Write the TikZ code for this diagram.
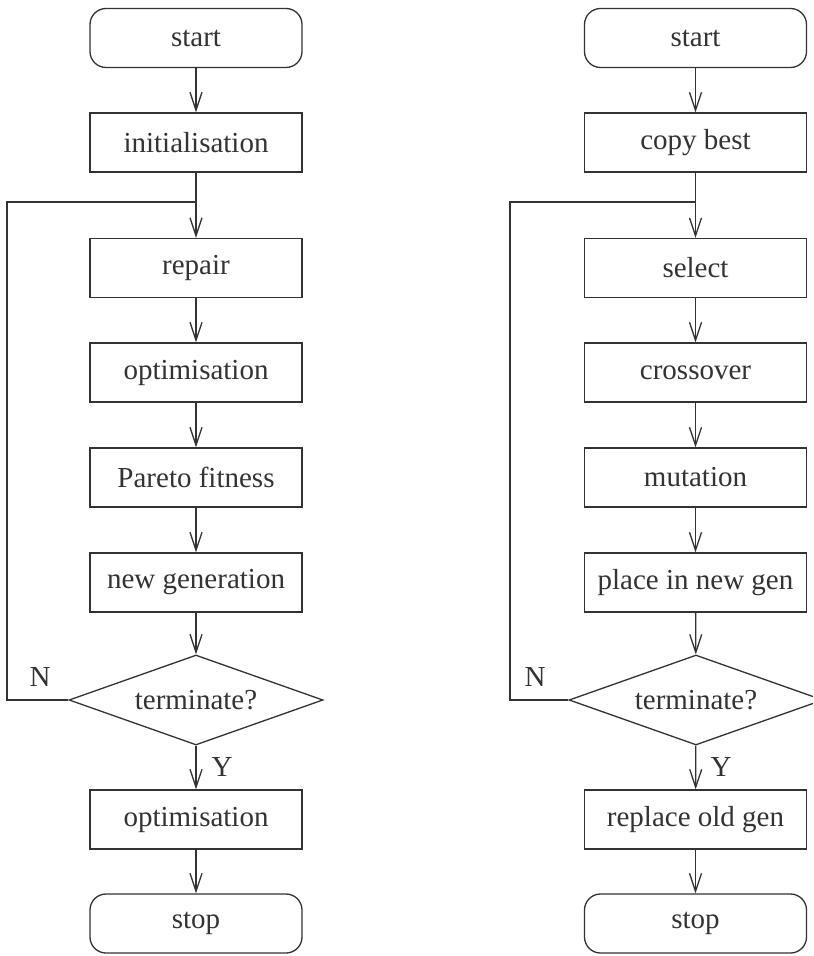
\documentclass[tikz,border=0pt]{standalone}
\usepackage{fontspec}
\setmainfont{Liberation Serif}
\usetikzlibrary{shapes.geometric,arrows.meta}
\definecolor{ink}{rgb}{0.2,0.2,0.2}
\begin{document}
\begin{tikzpicture}[x=0.5pt,y=-0.5pt,
  every node/.style={font=\fontsize{14.5}{17}\selectfont, text=ink},
  procbox/.style={draw=ink, line width=0.65pt, rectangle, minimum height=29.5pt, inner sep=0pt},
  lbox/.style={procbox, minimum width=106pt},
  rbox/.style={procbox, minimum width=111pt},
  termbox/.style={procbox, rounded corners=8pt},
  decide/.style={draw=ink, line width=0.65pt, diamond, aspect=2.8, inner sep=0pt,
    minimum width=127pt, minimum height=45pt},
  flow/.style={draw=ink, line width=0.65pt, -{Straight Barb[length=9pt,width=6pt]}},
  link/.style={draw=ink, line width=0.65pt}
]
\clip (0,0) rectangle (813,956);
\fill[white] (0,0) rectangle (813,956);

% ---- left chart: overall optimisation loop ----
\node[lbox,termbox] (ls)  at (196,38)    {start};
\node[lbox] (linit)       at (196,142.5) {initialisation};
\node[lbox] (lrep)        at (196,268)   {repair};
\node[lbox] (lopt)        at (196,372.5) {optimisation};
\node[lbox] (lpar)        at (196,477.5) {Pareto fitness};
\node[lbox] (lgen)        at (196,582.5) {new generation};
\node[decide] (lterm)     at (196,700)   {terminate?};
\node[lbox] (lopt2)       at (196,819.5) {optimisation};
\node[lbox,termbox] (lstop) at (196,923.5) {stop};

\coordinate (ljoin) at (196,202);
\coordinate (lback) at (7,202);

\draw[flow] (ls) -- (linit);
\draw[link] (linit) -- (ljoin);
\draw[flow] (ljoin) -- (lrep);
\draw[flow] (lrep) -- (lopt);
\draw[flow] (lopt) -- (lpar);
\draw[flow] (lpar) -- (lgen);
\draw[flow] (lgen) -- (lterm);
\draw[flow] (lterm) -- (lopt2);
\draw[flow] (lopt2) -- (lstop);
\draw[link] (lterm.west) -| (lback) -- (ljoin);

\node (lN) at (40,677) {N};
\node (lY) at (222,767) {Y};

% ---- right chart: building one generation ----
\node[rbox,termbox] (rs)  at (695.5,38)    {start};
\node[rbox] (rcopy)       at (695.5,142.5) {copy best};
\node[rbox] (rsel)        at (695.5,268)   {select};
\node[rbox] (rcross)      at (695.5,372.5) {crossover};
\node[rbox] (rmut)        at (695.5,477.5) {mutation};
\node[rbox] (rplace)      at (695.5,582.5) {place in new gen};
\node[decide] (rterm)     at (696,700)     {terminate?};
\node[rbox] (rrepl)       at (695.5,819.5) {replace old gen};
\node[rbox,termbox] (rstop) at (695.5,923.5) {stop};

\coordinate (rjoin) at (695.5,202);
\coordinate (rback) at (510,202);

\draw[flow] (rs) -- (rcopy);
\draw[link] (rcopy) -- (rjoin);
\draw[flow] (rjoin) -- (rsel);
\draw[flow] (rsel) -- (rcross);
\draw[flow] (rcross) -- (rmut);
\draw[flow] (rmut) -- (rplace);
\draw[flow] (rplace) -- (rterm);
\draw[flow] (rterm) -- (rrepl);
\draw[flow] (rrepl) -- (rstop);
\draw[link] (rterm.west) -| (rback) -- (rjoin);

\node (rN) at (535,677) {N};
\node (rY) at (721,767) {Y};
\end{tikzpicture}
\end{document}
